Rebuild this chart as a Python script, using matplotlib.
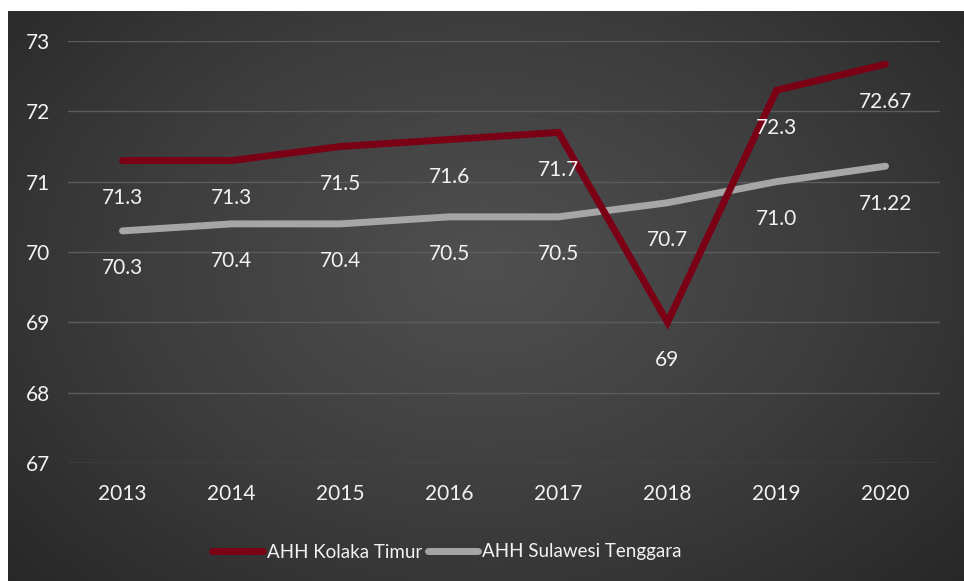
import numpy as np
import matplotlib
matplotlib.use("Agg")
import matplotlib.pyplot as plt

years = ["2013", "2014", "2015", "2016", "2017", "2018", "2019", "2020"]
kolaka = [71.3, 71.3, 71.5, 71.6, 71.7, 69, 72.3, 72.67]
kolaka_lbl = ["71.3", "71.3", "71.5", "71.6", "71.7", "69", "72.3", "72.67"]
sultra = [70.3, 70.4, 70.4, 70.5, 70.5, 70.7, 71.0, 71.22]
sultra_lbl = ["70.3", "70.4", "70.4", "70.5", "70.5", "70.7", "71.0", "71.22"]

plt.rcParams['font.family'] = ['Lato', 'DejaVu Sans']
txt = "#f2f2f2"
fs = 15

fig = plt.figure(figsize=(9.64, 5.81), dpi=100)
fig.set_facecolor("white")

# dark radial-gradient panel
bg = fig.add_axes([8 / 964, 0, 956 / 964, 570 / 581])
yy, xx = np.mgrid[0:1:300j, 0:1:500j]
r = np.sqrt(((xx - 0.5) / 0.75) ** 2 + ((yy - 0.55) / 0.9) ** 2)
bg.imshow(np.clip(r, 0, 1), cmap=matplotlib.colors.LinearSegmentedColormap.from_list(
    "g", ["#505050", "#3c3c3c", "#232323"]), vmin=0, vmax=1, aspect="auto",
    extent=[0, 1, 0, 1], origin="lower")
bg.set_axis_off()

ax = fig.add_axes([68 / 964, 1 - 463 / 581, 872 / 964, 422 / 581])
ax.patch.set_alpha(0)
x = np.arange(len(years))
ax.plot(x, kolaka, color="#7b0016", lw=5, solid_capstyle="round",
        solid_joinstyle="miter", label="AHH Kolaka Timur", zorder=3)
ax.plot(x, sultra, color="#a6a6a6", lw=5, solid_capstyle="round",
        label="AHH Sulawesi Tenggara", zorder=2)

for xi, v, s in zip(x, kolaka, kolaka_lbl):
    ax.annotate(s, (xi, v), xytext=(0, -27), textcoords="offset points",
                ha="center", va="center", color=txt, fontsize=fs, zorder=4)
for xi, v, s in zip(x, sultra, sultra_lbl):
    ax.annotate(s, (xi, v), xytext=(0, -27), textcoords="offset points",
                ha="center", va="center", color=txt, fontsize=fs, zorder=4)

ax.set_xlim(-0.5, 7.5)
ax.set_ylim(67, 73)
ax.set_yticks(range(67, 74))
ax.set_xticks(x)
ax.set_xticklabels(years)
ax.grid(axis="y", color="#5c5c5c", lw=1)
ax.set_axisbelow(True)
for sp in ax.spines.values():
    sp.set_visible(False)
ax.tick_params(length=0, colors=txt, labelsize=fs)
ax.tick_params(axis="y", pad=13)
ax.tick_params(axis="x", pad=15)

fig.legend(loc="center", bbox_to_anchor=(447 / 964, 1 - 552 / 581), ncol=2,
           frameon=False, fontsize=13.5, labelcolor=txt, handlelength=2.7,
           handletextpad=0.2, columnspacing=0.3)

plt.savefig("out.png", dpi=100, facecolor=fig.get_facecolor())
